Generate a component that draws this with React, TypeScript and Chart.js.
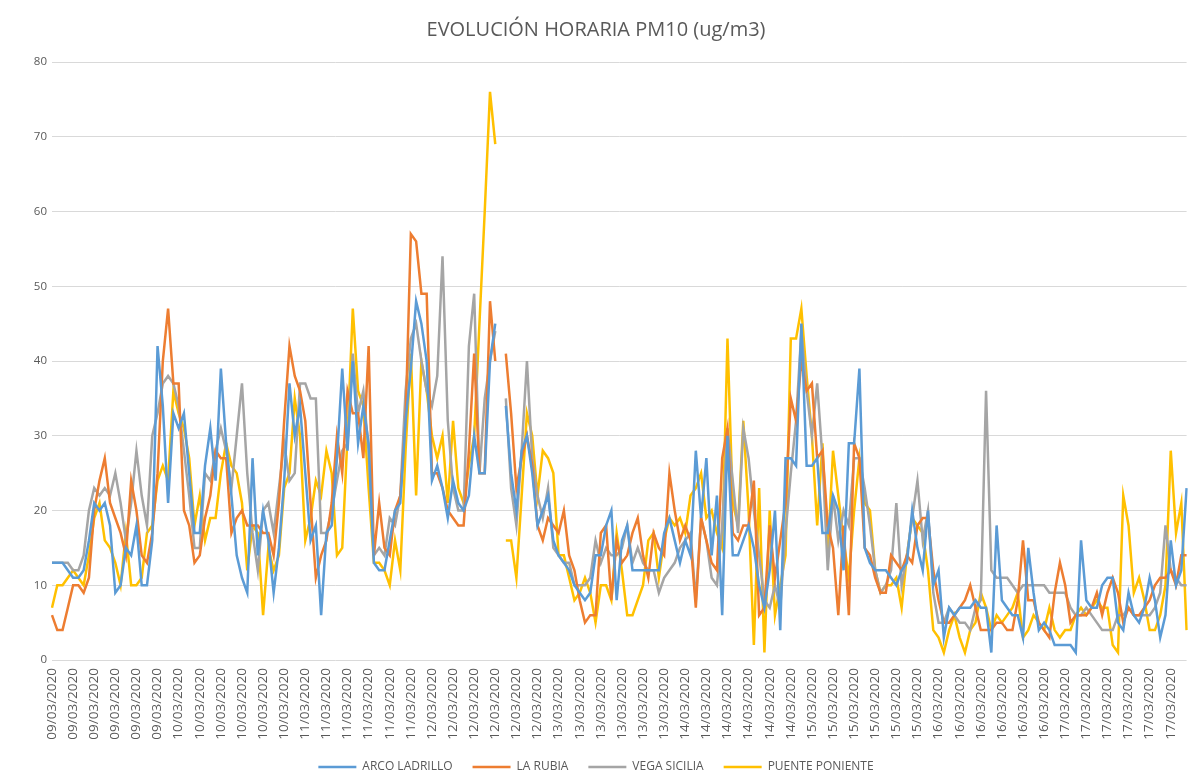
import React, { useEffect, useRef } from 'react';
import { Chart, registerables } from 'chart.js';

Chart.register(...registerables);

const chartTitle = 'EVOLUCIÓN HORARIA PM10 (ug/m3)';

const days = [
  '09/03/2020', '10/03/2020', '11/03/2020', '12/03/2020', '13/03/2020',
  '14/03/2020', '15/03/2020', '16/03/2020', '17/03/2020',
];
const hoursPerDay = 24;
const labelEvery = 4;
const categories: string[] = days.flatMap((d) => Array(hoursPerDay).fill(d));

const seriesNames = ['ARCO LADRILLO', 'LA RUBIA', 'VEGA SICILIA', 'PUENTE PONIENTE'];
const seriesColors = ['#5B9BD5', '#ED7D31', '#A5A5A5', '#FFC000'];

const arcoLadrillo: (number | null)[] = [
  13, 13, 13, 12, 11, 11, 12, 16, 21, 20, 21, 18, 9, 10, 15, 14, 18, 10, 10, 16, 42, 34, 21, 33,
  31, 33, 25, 17, 17, 26, 31, 24, 39, 29, 22, 14, 11, 9, 27, 14, 20, 16, 9, 15, 24, 37, 30, 34,
  25, 16, 18, 6, 17, 18, 27, 39, 28, 40, 29, 34, 29, 13, 12, 12, 16, 20, 21, 32, 39, 48, 45, 40,
  24, 26, 23, 19, 24, 21, 20, 22, 30, 25, 25, 40, 45, null, 34, 25, 20, 28, 30, 25, 18, 20, 22, 16,
  14, 13, 12, 10, 9, 8, 9, 14, 14, 18, 20, 8, 16, 18, 12, 12, 12, 12, 12, 12, 17, 19, 16, 13,
  16, 14, 28, 19, 27, 14, 22, 6, 30, 14, 14, 16, 18, 15, 10, 7, 12, 20, 4, 27, 27, 26, 45, 26,
  26, 27, 17, 17, 22, 20, 12, 29, 29, 39, 15, 13, 12, 12, 12, 11, 10, 12, 13, 20, 15, 12, 20, 10,
  12, 3, 7, 6, 7, 7, 7, 8, 7, 7, 1, 18, 8, 7, 6, 6, 3, 15, 9, 4, 5, 4, 2, 2,
  2, 2, 1, 16, 8, 7, 7, 10, 11, 11, 5, 4, 9, 6, 5, 7, 11, 8, 3, 6, 16, 10, 12, 23,
];

const laRubia: (number | null)[] = [
  6, 4, 4, 7, 10, 10, 9, 11, 20, 24, 27, 21, 19, 17, 14, 24, 20, 14, 13, 17, 25, 40, 47, 37,
  37, 20, 18, 13, 14, 19, 22, 28, 27, 27, 17, 19, 20, 18, 18, 18, 17, 17, 14, 21, 32, 42, 38, 36,
  32, 21, 11, 14, 16, 21, 30, 25, 36, 33, 33, 27, 42, 14, 21, 15, 14, 20, 22, 32, 57, 56, 49, 49,
  25, 25, 23, 20, 19, 18, 18, 28, 41, 25, 25, 48, 40, null, 41, 33, 23, 27, 30, 26, 18, 16, 19, 18,
  17, 20, 14, 12, 8, 5, 6, 6, 17, 18, 8, 16, 13, 14, 17, 19, 14, 11, 17, 15, 14, 25, 20, 16,
  18, 16, 7, 19, 16, 13, 12, 27, 31, 17, 16, 18, 18, 24, 6, 7, 18, 11, 16, 21, 35, 32, 40, 36,
  37, 27, 28, 18, 15, 6, 18, 6, 29, 27, 15, 14, 11, 9, 9, 14, 13, 12, 14, 13, 18, 19, 19, 12,
  8, 5, 5, 6, 7, 8, 10, 7, 4, 4, 4, 5, 5, 4, 4, 8, 16, 8, 8, 5, 4, 3, 9, 13,
  10, 5, 6, 6, 6, 7, 9, 6, 9, 11, 9, 5, 7, 6, 6, 7, 8, 10, 11, 11, 12, 10, 14, 14,
];

const vegaSicilia: (number | null)[] = [
  13, 13, 13, 13, 12, 12, 14, 20, 23, 22, 23, 22, 25, 21, 16, 21, 28, 22, 18, 30, 33, 37, 38, 37,
  34, 28, 22, 15, 15, 25, 24, 28, 31, 28, 23, 30, 37, 25, 17, 12, 20, 21, 17, 23, 29, 24, 25, 37,
  37, 35, 35, 17, 17, 20, 24, 28, 29, 41, 33, 36, 28, 14, 15, 14, 19, 18, 22, 36, 43, 45, 40, 36,
  34, 38, 54, 32, 23, 20, 20, 42, 49, 25, 35, 40, 44, null, 35, 23, 18, 28, 40, 27, 22, 19, 23, 15,
  14, 13, 13, 10, 10, 10, 11, 16, 13, 15, 14, 14, 15, 18, 13, 15, 13, 12, 12, 9, 11, 12, 13, 15,
  16, 17, 8, 19, 16, 11, 10, 18, 31, 24, 17, 31, 27, 20, 14, 8, 7, 10, 7, 17, 25, 32, 44, 36,
  30, 37, 27, 12, 22, 16, 20, 18, 27, 27, 23, 18, 12, 9, 10, 12, 21, 10, 14, 19, 24, 16, 20, 9,
  5, 5, 7, 6, 5, 5, 4, 7, 8, 36, 12, 11, 11, 11, 10, 9, 10, 10, 10, 10, 10, 9, 9, 9,
  9, 7, 6, 6, 7, 6, 5, 4, 4, 4, 6, 6, 7, 6, 6, 6, 6, 7, 9, 18, 12, 11, 10, 10,
];

const puentePoniente: (number | null)[] = [
  7, 10, 10, 11, 12, 11, 10, 14, 19, 21, 16, 15, 13, 10, 17, 10, 10, 11, 17, 18, 24, 26, 24, 36,
  33, 31, 27, 18, 22, 16, 19, 19, 25, 29, 26, 25, 21, 12, 18, 17, 6, 15, 12, 14, 23, 25, 35, 30,
  16, 19, 24, 22, 28, 25, 14, 15, 30, 47, 36, 34, 23, 13, 13, 12, 10, 16, 12, 28, 41, 22, 40, 36,
  30, 27, 30, 21, 32, 23, 21, 26, 30, 45, 60, 76, 69, null, 16, 16, 11, 22, 33, 30, 22, 28, 27, 25,
  14, 14, 11, 8, 9, 11, 9, 5, 10, 10, 8, 17, 12, 6, 6, 8, 10, 16, 17, 11, 16, 19, 18, 19,
  17, 22, 23, 25, 19, 20, 17, 15, 43, 21, 18, 32, 20, 2, 23, 1, 20, 6, 10, 14, 43, 43, 47, 38,
  30, 18, 29, 14, 28, 22, 16, 11, 20, 27, 21, 20, 12, 9, 10, 10, 11, 7, 14, 19, 18, 17, 12, 4,
  3, 1, 4, 6, 3, 1, 4, 5, 9, 7, 4, 6, 5, 6, 7, 9, 3, 4, 6, 5, 4, 7, 4, 3,
  4, 4, 6, 7, 6, 7, 8, 7, 7, 2, 1, 22, 18, 9, 11, 8, 4, 4, 6, 10, 28, 17, 21, 4,
];

const seriesValues = [arcoLadrillo, laRubia, vegaSicilia, puentePoniente];

const yMin = 0;
const yMax = 80;
const yStep = 10;

const FONT = '"Open Sans", "Noto Sans", sans-serif';
const TEXT = '#595959';

export default function App() {
  const canvasRef = useRef<HTMLCanvasElement | null>(null);

  useEffect(() => {
    if (!canvasRef.current) return;
    const chart = new Chart(canvasRef.current, {
      type: 'line',
      data: {
        labels: categories,
        datasets: seriesNames.map((name, k) => ({
          label: name,
          data: seriesValues[k],
          borderColor: seriesColors[k],
          backgroundColor: seriesColors[k],
          borderWidth: 2.5,
          pointRadius: 0,
          pointHoverRadius: 0,
          tension: 0,
          spanGaps: false,
          fill: false,
        })),
      },
      options: {
        animation: false,
        responsive: true,
        maintainAspectRatio: false,
        layout: { padding: { left: 0, right: 3, top: 0, bottom: 0 } },
        plugins: {
          title: {
            display: true,
            text: chartTitle,
            color: TEXT,
            font: { family: FONT, size: 20, weight: 'normal' },
            padding: { top: 18, bottom: 20 },
          },
          legend: {
            display: true,
            position: 'bottom',
            labels: {
              color: TEXT,
              font: { family: FONT, size: 12 },
              usePointStyle: true,
              pointStyle: 'line',
              pointStyleWidth: 38,
              padding: 20,
            },
          },
          tooltip: { enabled: false },
        },
        scales: {
          x: {
            type: 'category',
            offset: false,
            grid: { display: false, drawTicks: false },
            border: { display: false },
            afterFit: (scale: any) => {
              scale.height = 81;
            },
            ticks: {
              autoSkip: false,
              maxRotation: 90,
              minRotation: 90,
              padding: 8,
              color: TEXT,
              font: { family: FONT, size: 13.5 },
              callback: (_v: any, idx: number) =>
                idx % labelEvery === 0 ? categories[idx] : null,
            },
          },
          y: {
            min: yMin,
            max: yMax,
            grid: { color: '#D9D9D9', lineWidth: 1, drawTicks: false },
            border: { display: false },
            afterFit: (scale: any) => {
              scale.width = 52;
            },
            ticks: {
              stepSize: yStep,
              padding: 5,
              color: TEXT,
              font: { family: FONT, size: 11.5 },
            },
          },
        },
      },
    });
    return () => chart.destroy();
  }, []);

  return (
    <div
      style={{
        position: 'fixed',
        left: 0,
        top: 0,
        width: '1195px',
        height: '783px',
        background: '#ffffff',
      }}
    >
      <canvas ref={canvasRef} />
    </div>
  );
}
